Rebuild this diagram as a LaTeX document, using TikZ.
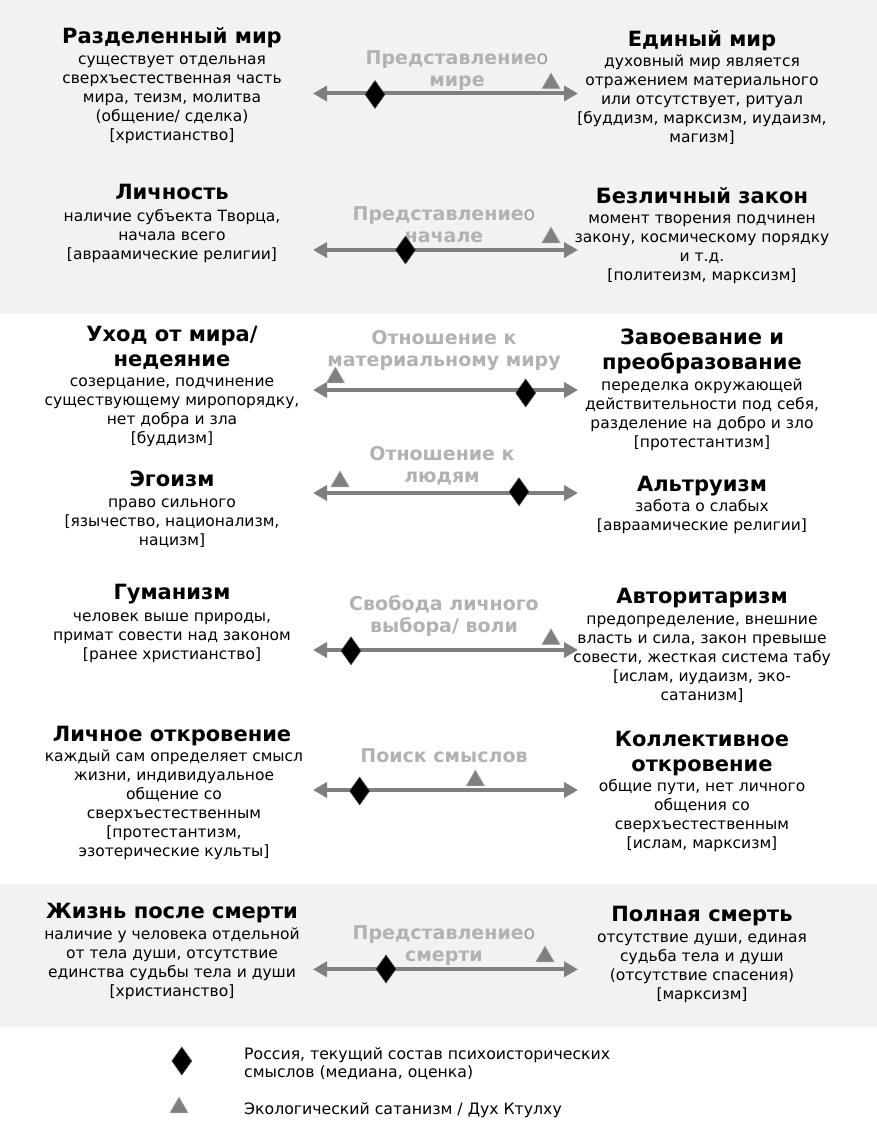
\documentclass[tikz,border=0pt]{standalone}
\usepackage{fontspec}
\setmainfont{DejaVu Sans}
\usetikzlibrary{arrows.meta,shapes.geometric}
\definecolor{band}{HTML}{F2F2F2}
\definecolor{axis}{HTML}{7F7F7F}
\definecolor{lbl}{HTML}{B2B2B2}
\definecolor{lblo}{HTML}{999999}
\definecolor{trifill}{HTML}{808080}
\definecolor{triline}{HTML}{A6A6A6}
\newcommand\firstln{\rule{0pt}{1em}}
\newcommand\pred{{\bfseries Представление}{\mdseries\color{lblo}о}}
\begin{document}
\begin{tikzpicture}[x=1pt,y=-1pt,
  ttl/.style={font=\fontsize{21}{25}\selectfont\bfseries, align=center, inner sep=0pt, anchor=north},
  body/.style={font=\fontsize{15.5}{19}\selectfont, align=center, inner sep=0pt, anchor=north},
  axlbl/.style={font=\fontsize{19}{22}\selectfont\bfseries, text=lbl, align=center, inner sep=0pt, anchor=north},
  axisline/.style={draw=axis, line width=4pt, {Triangle[length=14pt,width=15pt]}-{Triangle[length=14pt,width=15pt]}},
  rus/.style={diamond, fill=black, draw=black!75, line width=0.6pt, minimum width=20pt, minimum height=28pt, inner sep=0pt},
  eco/.style={regular polygon, regular polygon sides=3, fill=trifill, draw=triline, line width=0.6pt, minimum size=21pt, inner sep=0pt},
  leg/.style={font=\fontsize{15.7}{18.5}\selectfont, align=left, inner sep=0pt, anchor=north west}]
\useasboundingbox (0,0) rectangle (877,1129);
\fill[white] (0,0) rectangle (877,1129);
\fill[band] (0,0) rectangle (877,314);
\fill[band] (0,884) rectangle (877,1027);

% Row 1
\node[ttl] (t1l) at (172,22) {\firstln Разделенный мир};
\node[body] (b1l) at (172,48.5) {\firstln существует отдельная\\сверхъестественная часть\\мира, теизм, молитва\\(общение/ сделка)\\{}[христианство]};
\node[ttl] (t1r) at (702,25) {\firstln Единый мир};
\node[body] (b1r) at (702,50.5) {\firstln духовный мир является\\отражением материального\\или отсутствует, ритуал\\{}[буддизм, марксизм, иудаизм,\\магизм]};
\node[axlbl] (a1) at (457,45) {\firstln\pred\\мире};
\coordinate (l1) at (313,93.5);
\coordinate (r1) at (578,93.5);
\draw[axisline] (l1) -- (r1);
\node[eco] (e1) at (551,83.5) {};
\node[rus] (d1) at (375,94.5) {};

% Row 2
\node[ttl] (t2l) at (172,178.3) {\firstln Личность};
\node[body] (b2l) at (172,205.5) {\firstln наличие субъекта Творца,\\начала всего\\{}[авраамические религии]};
\node[ttl] (t2r) at (702,182.3) {\firstln Безличный закон};
\node[body] (b2r) at (702,208) {\firstln момент творения подчинен\\закону, космическому порядку\\и т.д.\\{}[политеизм, марксизм]};
\node[axlbl] (a2) at (444,201) {\firstln\pred\\начале};
\coordinate (l2) at (313,250);
\coordinate (r2) at (578,250);
\draw[axisline] (l2) -- (r2);
\node[eco] (e2) at (551,237.6) {};
\node[rus] (d2) at (405.5,250) {};

% Row 3
\node[ttl] (t3l) at (172,320) {\firstln Уход от мира/\\недеяние};
\node[body] (b3l) at (172,370.5) {\firstln созерцание, подчинение\\существующему миропорядку,\\нет добра и зла\\{}[буддизм]};
\node[ttl] (t3r) at (702,323) {\firstln Завоевание и\\преобразование};
\node[body] (b3r) at (702,374.5) {\firstln переделка окружающей\\действительности под себя,\\разделение на добро и зло\\{}[протестантизм]};
\node[axlbl] (a3) at (444,325) {\firstln Отношение к\\материальному миру};
\coordinate (l3) at (313,390);
\coordinate (r3) at (578,390);
\draw[axisline] (l3) -- (r3);
\node[eco] (e3) at (335.5,377.6) {};
\node[rus] (d3) at (525.7,393) {};

% Row 4
\node[ttl] (t4l) at (172,465) {\firstln Эгоизм};
\node[body] (b4l) at (172,492) {\firstln право сильного\\{}[язычество, национализм,\\нацизм]};
\node[ttl] (t4r) at (702,470) {\firstln Альтруизм};
\node[body] (b4r) at (702,495.5) {\firstln забота о слабых\\{}[авраамические религии]};
\node[axlbl] (a4) at (442,441.5) {\firstln Отношение к\\людям};
\coordinate (l4) at (313,493);
\coordinate (r4) at (578,493);
\draw[axisline] (l4) -- (r4);
\node[eco] (e4) at (340,481.6) {};
\node[rus] (d4) at (519,491.7) {};

% Row 5
\node[ttl] (t5l) at (172,578) {\firstln Гуманизм};
\node[body] (b5l) at (172,605.5) {\firstln человек выше природы,\\примат совести над законом\\{}[ранее христианство]};
\node[ttl] (t5r) at (702,582) {\firstln Авторитаризм};
\node[body] (b5r) at (702,608.5) {\firstln предопределение, внешние\\власть и сила, закон превыше\\совести, жесткая система табу\\{}[ислам, иудаизм, эко-\\сатанизм]};
\node[axlbl] (a5) at (444,591.5) {\firstln Свобода личного\\выбора/ воли};
\coordinate (l5) at (313,650);
\coordinate (r5) at (578,650);
\draw[axisline] (l5) -- (r5);
\node[eco] (e5) at (551,639.3) {};
\node[rus] (d5) at (351,650.8) {};

% Row 6
\node[ttl] (t6l) at (172,720) {\firstln Личное откровение};
\node[body] (b6l) at (174,745.5) {\firstln каждый сам определяет смысл\\жизни, индивидуальное\\общение со\\сверхъестественным\\{}[протестантизм,\\эзотерические культы]};
\node[ttl] (t6r) at (702,725) {\firstln Коллективное\\откровение};
\node[body] (b6r) at (702,775.5) {\firstln общие пути, нет личного\\общения со\\сверхъестественным\\{}[ислам, марксизм]};
\node[axlbl] (a6) at (444,743) {\firstln Поиск смыслов};
\coordinate (l6) at (313,790);
\coordinate (r6) at (578,790);
\draw[axisline] (l6) -- (r6);
\node[eco] (e6) at (475.4,780.6) {};
\node[rus] (d6) at (359.6,791) {};

% Row 7
\node[ttl] (t7l) at (172,897) {\firstln Жизнь после смерти};
\node[body] (b7l) at (172,923.5) {\firstln наличие у человека отдельной\\от тела души, отсутствие\\единства судьбы тела и души\\{}[христианство]};
\node[ttl] (t7r) at (702,900) {\firstln Полная смерть};
\node[body] (b7r) at (702,927) {\firstln отсутствие души, единая\\судьба тела и души\\(отсутствие спасения)\\{}[марксизм]};
\node[axlbl] (a7) at (444,920) {\firstln\pred\\смерти};
\coordinate (l7) at (313,969.3);
\coordinate (r7) at (578,969.3);
\draw[axisline] (l7) -- (r7);
\node[eco] (e7) at (545,956.6) {};
\node[rus] (d7) at (386,969) {};

% Legend
\node[rus] (ld) at (181.8,1061) {};
\node[leg] (lt1) at (244,1043.3) {\firstln Россия, текущий состав психоисторических\\смыслов (медиана, оценка)};
\node[eco] (le) at (179,1107.6) {};
\node[leg] (lt2) at (244,1098.3) {\firstln Экологический сатанизм / Дух Ктулху};
\end{tikzpicture}
\end{document}
